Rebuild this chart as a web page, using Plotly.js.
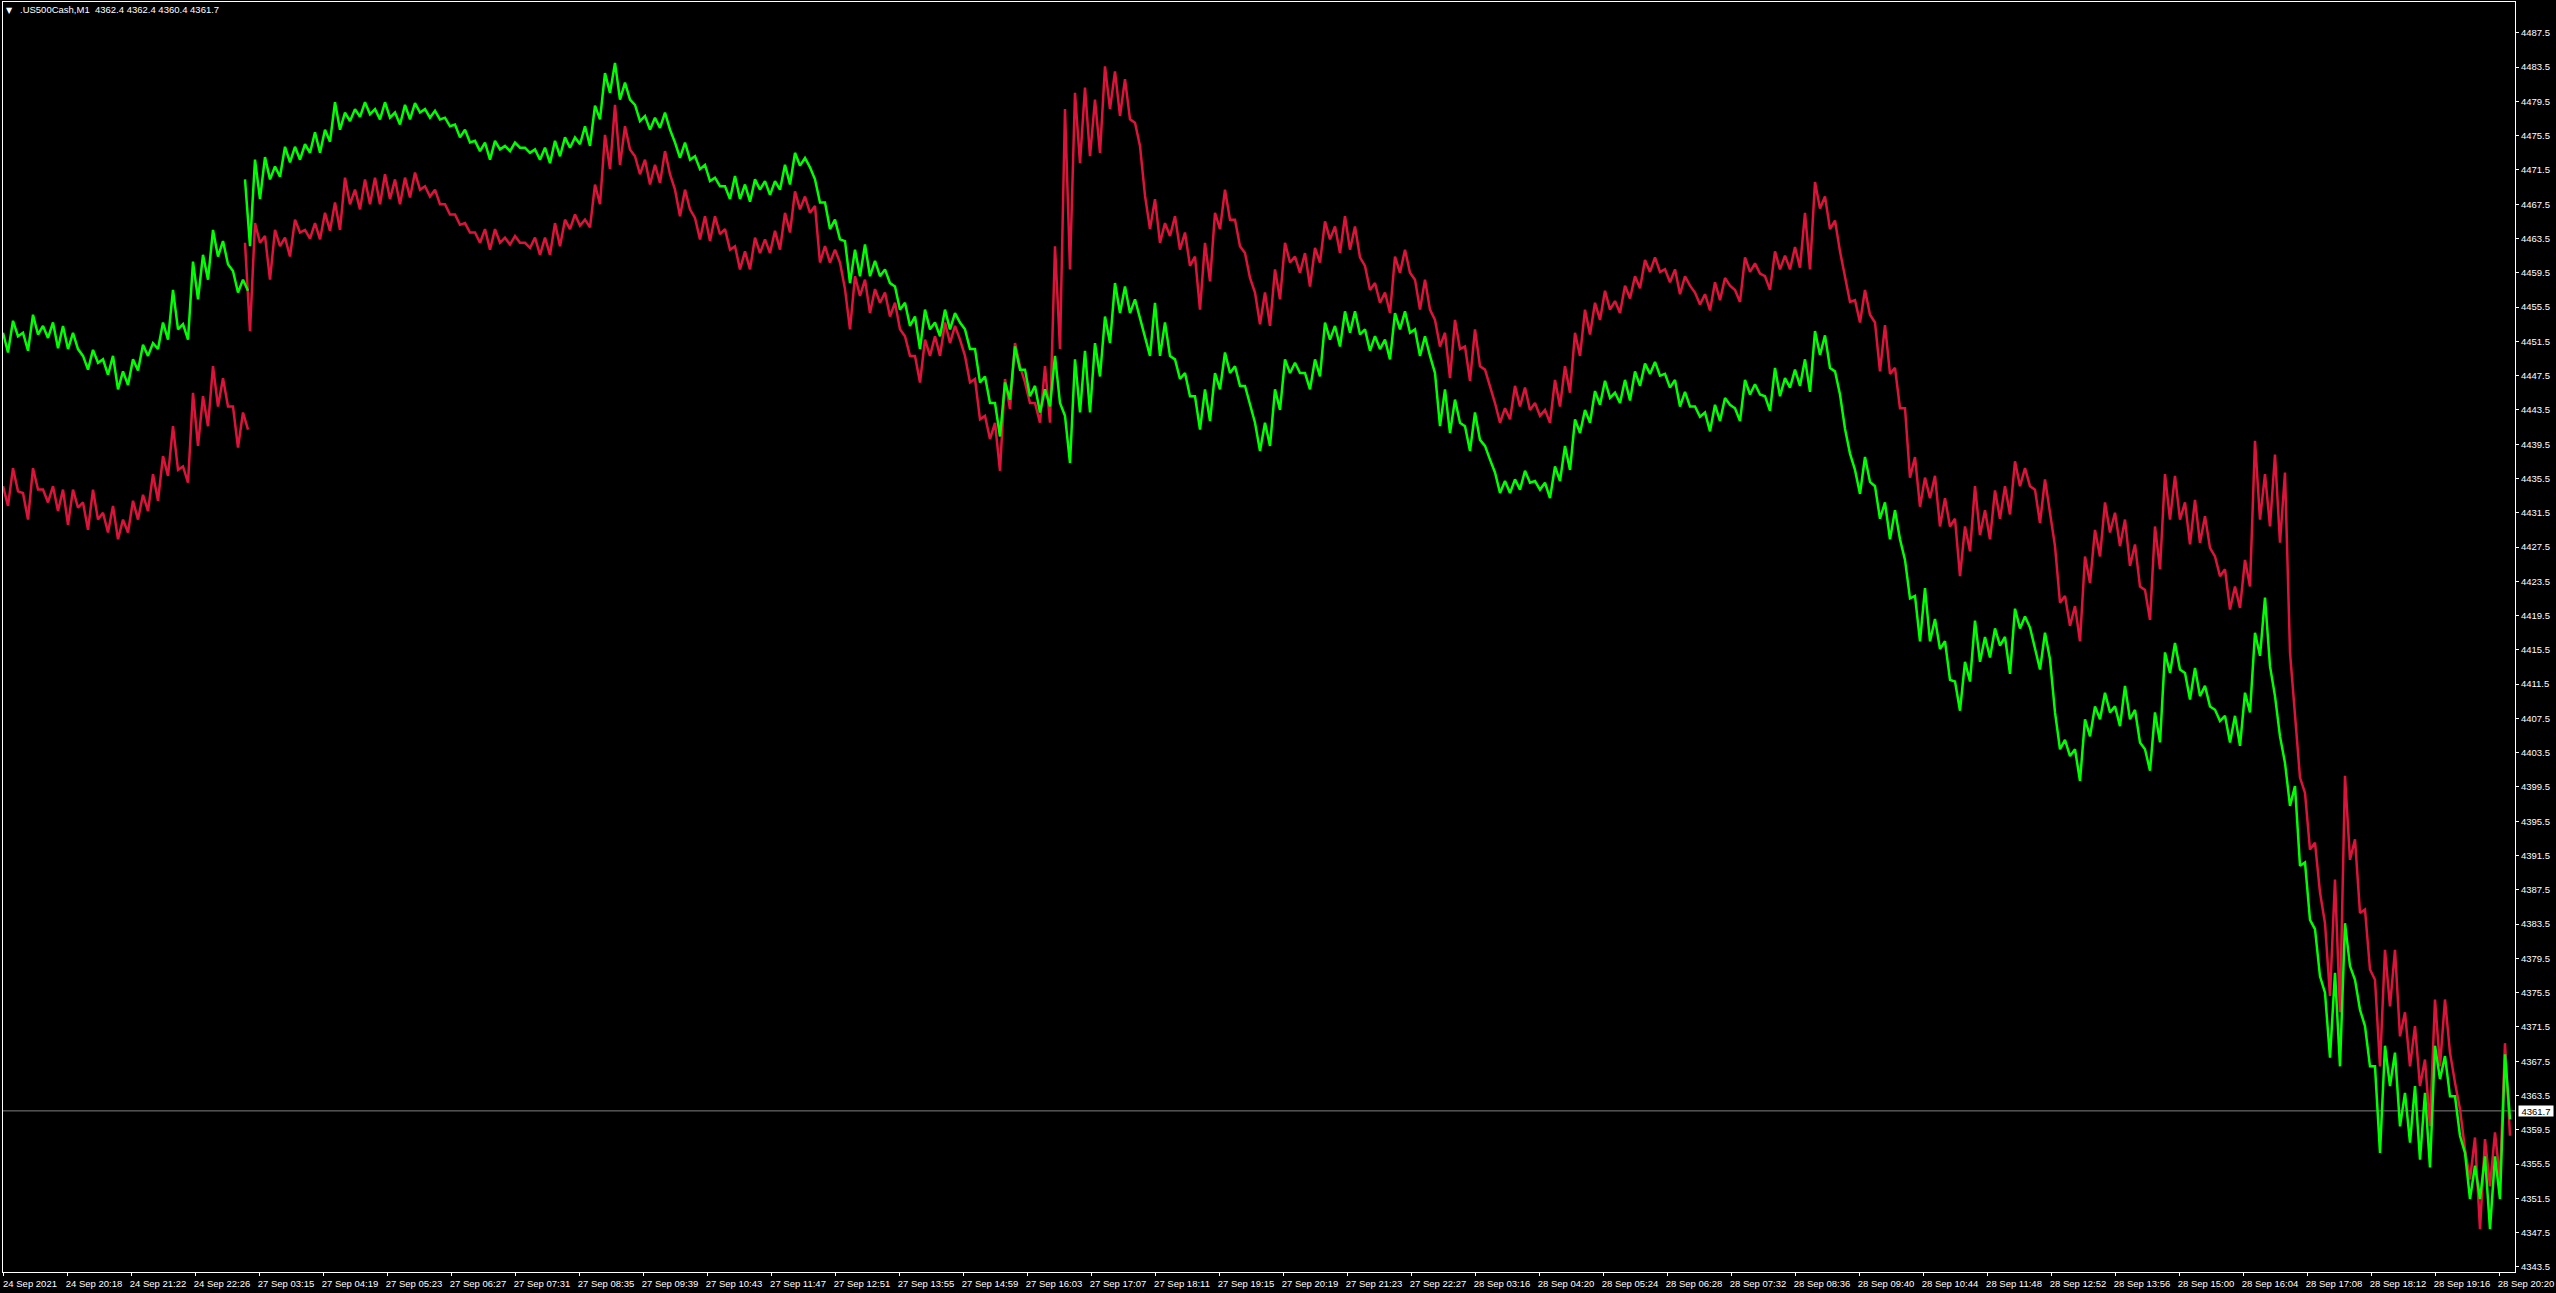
<!DOCTYPE html>
<html>
<head>
<meta charset="utf-8">
<script src="https://cdn.plot.ly/plotly-3.0.1.min.js"></script>
<style>html,body{margin:0;padding:0;background:#000;overflow:hidden}#chart{width:2556px;height:1293px}</style>
</head>
<body>
<div id="chart"></div>
<script>
// Time labels: one every 64 one-minute bars
const timeLabels = ["24 Sep 2021","24 Sep 20:18","24 Sep 21:22","24 Sep 22:26","27 Sep 03:15","27 Sep 04:19","27 Sep 05:23","27 Sep 06:27","27 Sep 07:31","27 Sep 08:35","27 Sep 09:39","27 Sep 10:43","27 Sep 11:47","27 Sep 12:51","27 Sep 13:55","27 Sep 14:59","27 Sep 16:03","27 Sep 17:07","27 Sep 18:11","27 Sep 19:15","27 Sep 20:19","27 Sep 21:23","27 Sep 22:27","28 Sep 03:16","28 Sep 04:20","28 Sep 05:24","28 Sep 06:28","28 Sep 07:32","28 Sep 08:36","28 Sep 09:40","28 Sep 10:44","28 Sep 11:48","28 Sep 12:52","28 Sep 13:56","28 Sep 15:00","28 Sep 16:04","28 Sep 17:08","28 Sep 18:12","28 Sep 19:16","28 Sep 20:20"];
const barsPerLabel = 64;
const priceTicks = [4487.5,4483.5,4479.5,4475.5,4471.5,4467.5,4463.5,4459.5,4455.5,4451.5,4447.5,4443.5,4439.5,4435.5,4431.5,4427.5,4423.5,4419.5,4415.5,4411.5,4407.5,4403.5,4399.5,4395.5,4391.5,4387.5,4383.5,4379.5,4375.5,4371.5,4367.5,4363.5,4359.5,4355.5,4351.5,4347.5,4343.5];
const currentPrice = 4361.7;
const header = ".US500Cash,M1  4362.4 4362.4 4360.4 4361.7";

// Each value is the high / low seen in a 10-bar window.
// Session A: 24 Sep, before the gap
const greenHighA = [4452.5,4453.9,4452.5,4454.6,4453.3,4453.7,4453.3,4452.5,4449.8,4450.5,4449.4,4449.8,4448.0,4449.4,4451.1,4451.3,4453.7,4457.5,4453.5,4460.8,4461.6,4464.5,4463.2,4459.7,4458.7];
const greenLowA = [4450.2,4452.1,4450.4,4452.3,4451.9,4450.7,4450.6,4450.6,4448.2,4449.0,4447.6,4445.9,4446.4,4448.1,4449.8,4450.6,4451.7,4452.9,4451.7,4456.4,4458.7,4461.4,4460.5,4457.2,4457.4];
const redHighA = [4434.6,4436.7,4433.8,4436.7,4434.2,4434.6,4434.2,4434.2,4432.7,4434.2,4431.5,4432.3,4430.7,4432.9,4433.6,4436.0,4438.1,4441.6,4436.9,4445.5,4445.1,4448.6,4447.2,4443.9,4443.2];
const redLowA = [4432.3,4434.0,4430.7,4434.2,4432.7,4431.7,4430.1,4432.1,4429.5,4430.7,4429.2,4428.4,4429.2,4430.7,4431.7,4432.9,4435.8,4436.5,4435.0,4439.3,4441.6,4443.9,4443.9,4439.1,4441.2];
const sessionAStart = 0;

// Session B: from the gap to the last bar
const greenHighB = [
4470.4,4472.7,4473.0,4471.9,4474.2,4474.2,4474.5,4475.9,4476.2,4479.4,4478.2,4478.6,4479.4,4478.6,4479.4,4478.2,
4479.1,4479.3,4478.6,4478.4,4477.6,4476.8,4476.2,4474.9,4474.7,4474.9,4474.3,4474.7,4474.1,4473.9,4474.1,4474.9,4475.3,4475.3,4476.6,4479.0,4482.8,4484.0,4481.7,4479.1,4477.8,4477.6,4478.2,4474.7,4474.7,4473.1,4472.1,4470.6,4469.6,4470.8,4469.8,4470.4,4470.2,4470.2,4472.1,4473.5,4472.9,4470.4,
4467.7,4465.7,4463.2,4462.2,4462.8,4460.9,4459.9,4457.9,4456.0,4454.4,4455.2,4453.7,4455.2,4454.8,4452.9,4450.6,4447.4,4444.3,4446.7,4450.9,4448.2,4446.3,4445.9,4449.8,4442.8,4449.4,4450.4,4451.3,4454.4,4458.3,4457.9,4456.4,4452.1,4456.0,4453.7,4449.4,4447.8,4445.1,
4445.9,4447.8,4450.2,4448.6,4446.3,4442.0,4442.0,4445.9,4449.4,4449.0,4447.8,4449.4,4453.7,4453.3,4455.0,4455.0,4452.9,4452.1,4451.7,4454.8,4455.0,4452.9,4452.1,4447.8,4445.9,4444.7,4441.6,4443.2,4439.3,4436.2,4435.2,4435.4,4436.4,4435.2,4435.0,4436.9,4439.3,4442.4,4443.5,4445.7,4446.9,4445.5,
4447.0,4448.0,4448.9,4449.1,4447.7,4447.0,4445.6,4443.9,4443.2,4444.1,4444.9,4443.7,4447.0,4446.5,4445.1,4448.4,4447.2,4448.2,4449.4,4452.7,4452.2,4448.0,4441.3,4436.5,4438.0,4434.6,4432.7,4431.8,4426.0,4421.8,4422.7,4419.1,4416.5,4411.8,4414.1,4418.9,4417.0,4418.0,4417.0,4420.3,
4419.4,4415.5,4417.5,4408.2,4405.0,4403.9,4407.4,4408.9,4410.5,4408.9,4411.3,4408.5,4403.9,4408.2,4415.2,4416.3,4412.8,4413.4,4411.3,4408.5,4407.8,4407.8,4410.5,4417.5,4421.6,4410.1,
4402.3,4399.6,4390.7,4382.9,4375.5,4377.8,4383.6,4377.0,4371.6,4366.9,4369.3,4368.5,4363.8,4364.6,4363.8,4369.3,4368.1,4363.4,4356.8,4355.3,4356.4,4356.4,4368.3];
const greenLowB = [
4462.6,4468.1,4470.4,4470.7,4472.4,4472.7,4473.5,4473.5,4474.8,4476.2,4477.2,4477.7,4478.0,4477.4,4477.6,4476.8,
4477.4,4478.2,4477.6,4477.4,4476.6,4475.3,4474.7,4473.7,4472.7,4473.9,4473.7,4474.1,4473.5,4472.7,4472.3,4473.1,4474.1,4474.5,4474.3,4477.4,4480.5,4479.7,4479.7,4477.2,4476.2,4476.4,4476.2,4472.9,4472.7,4471.6,4470.2,4469.6,4468.1,4468.1,4467.8,4469.2,4468.6,4469.2,4469.8,4472.0,4471.8,4467.7,
4464.6,4463.4,4458.3,4459.1,4459.1,4459.1,4458.3,4455.2,4453.3,4450.6,4452.9,4452.1,4452.9,4453.7,4450.6,4446.7,4444.3,4440.4,4444.7,4448.2,4445.1,4443.2,4443.9,4444.3,4437.3,4443.2,4443.2,4447.4,4451.3,4454.8,4454.8,4454.1,4449.8,4449.8,4449.8,4447.1,4445.1,4441.2,
4442.2,4445.9,4447.8,4446.3,4444.1,4438.7,4439.3,4443.5,4447.8,4447.8,4445.9,4447.4,4451.7,4450.9,4452.5,4452.3,4450.4,4450.6,4449.4,4452.9,4452.5,4449.8,4449.8,4441.6,4440.8,4442.0,4438.7,4440.0,4437.7,4433.8,4433.8,4434.2,4435.0,4434.2,4433.2,4435.2,4436.5,4440.8,4442.0,4444.1,4444.9,4444.3,
4444.6,4446.3,4447.7,4447.5,4446.1,4443.9,4443.9,4442.7,4441.0,4442.2,4444.1,4442.2,4445.3,4445.3,4443.4,4445.1,4446.1,4446.3,4445.6,4449.9,4448.4,4445.3,4438.4,4433.7,4435.1,4430.8,4428.4,4428.4,4421.5,4416.5,4416.5,4415.6,4412.0,4408.4,4411.8,4414.1,4414.6,4416.0,4412.7,4418.0,
4418.1,4413.2,4414.4,4403.9,4403.1,4400.2,4405.4,4407.4,4408.2,4406.6,4407.4,4404.7,4401.4,4404.7,4412.8,4413.2,4409.7,4410.1,4408.9,4407.2,4404.7,4404.3,4408.2,4414.8,4413.6,4405.4,
4397.3,4390.3,4384.0,4377.4,4367.9,4366.9,4378.6,4373.5,4366.9,4356.8,4364.6,4359.9,4358.0,4356.0,4355.1,4365.4,4363.4,4358.8,4351.4,4351.4,4347.9,4351.4,4360.7];
const redHighB = [
4463.0,4465.3,4463.8,4464.5,4463.6,4465.7,4464.5,4465.3,4466.5,4467.7,4470.6,4469.2,4470.4,4470.6,4471.0,4470.4,
4470.6,4471.2,4469.6,4469.2,4467.5,4466.3,4465.3,4464.2,4464.6,4464.6,4463.6,4463.8,4463.0,4463.6,4463.6,4465.3,4465.7,4466.3,4465.7,4469.8,4475.6,4479.1,4476.6,4473.1,4472.7,4472.1,4473.7,4469.2,4469.2,4465.9,4466.1,4466.1,4464.6,4462.6,4462.0,4463.6,4463.4,4464.4,4466.5,4469.0,4468.4,4467.3,
4462.6,4462.2,4457.6,4459.1,4458.7,4457.6,4457.2,4456.0,4452.1,4449.8,4451.7,4452.1,4453.7,4453.3,4449.8,4447.1,4442.8,4442.0,4447.1,4451.3,4446.7,4444.3,4448.6,4462.6,4478.6,4480.5,4481.1,4479.7,4483.6,4483.0,4482.1,4477.0,4468.5,4468.1,4465.3,4466.1,4464.2,4461.4,
4463.0,4466.5,4469.2,4465.7,4461.8,4457.2,4457.2,4459.9,4463.0,4461.4,4461.8,4462.4,4465.5,4464.9,4466.1,4464.9,4460.3,4458.3,4457.2,4461.4,4462.2,4458.7,4458.7,4454.0,4452.5,4454.0,4450.9,4452.9,4448.2,4444.3,4443.7,4446.3,4446.1,4444.3,4443.5,4447.0,4448.6,4452.5,4455.2,4456.0,4457.4,4456.2,
4458.0,4459.1,4461.0,4461.3,4459.9,4459.9,4459.1,4457.2,4457.0,4458.4,4458.9,4457.5,4461.3,4460.6,4459.1,4462.0,4461.5,4462.5,4466.5,4470.1,4468.4,4465.6,4458.9,4456.3,4457.5,4453.7,4453.4,4448.4,4443.7,4438.0,4435.6,4435.8,4433.2,4430.8,4429.9,4434.6,4431.8,4434.1,4434.6,4437.5,
4436.7,4434.2,4435.4,4427.6,4421.8,4420.6,4426.4,4429.5,4432.7,4431.5,4430.7,4427.8,4422.5,4429.9,4436.0,4435.8,4432.7,4433.0,4431.1,4426.4,4424.9,4422.9,4426.0,4439.9,4436.0,4438.3,4436.2,
4407.4,4398.8,4393.0,4383.6,4388.7,4400.8,4393.4,4385.2,4377.0,4380.5,4380.5,4373.2,4371.6,4367.7,4374.7,4374.7,4365.0,4357.2,4358.6,4358.4,4359.2,4369.6];
const redLowB = [
4452.7,4463.0,4458.7,4462.6,4461.4,4464.2,4463.5,4463.4,4464.4,4464.5,4467.5,4466.9,4467.5,4467.5,4468.1,4467.5,
4468.3,4469.2,4468.4,4467.5,4466.3,4465.1,4464.2,4463.0,4462.2,4463.0,4462.8,4463.0,4462.4,4461.6,4461.6,4462.6,4464.6,4465.0,4464.8,4467.5,4471.6,4472.1,4473.9,4471.0,4469.8,4470.0,4471.0,4466.1,4466.9,4463.4,4463.2,4464.0,4462.2,4459.9,4459.9,4461.8,4461.8,4462.2,4464.2,4466.9,4466.5,4460.7,
4460.7,4460.7,4452.9,4456.8,4454.8,4456.0,4454.4,4452.9,4449.8,4446.7,4449.8,4449.8,4451.3,4451.7,4446.7,4442.4,4440.1,4436.4,4443.6,4448.6,4444.3,4442.0,4442.0,4450.6,4459.9,4472.3,4473.1,4473.5,4478.6,4477.8,4477.4,4474.3,4464.6,4463.0,4463.8,4462.2,4460.3,4455.2,
4458.5,4464.6,4465.7,4462.6,4458.9,4453.5,4453.3,4456.4,4460.7,4459.5,4457.9,4460.7,4463.4,4461.8,4462.2,4461.3,4457.5,4456.0,4454.8,4459.5,4459.5,4455.2,4455.2,4450.9,4447.2,4450.6,4446.9,4448.6,4446.3,4442.0,4442.4,4443.9,4443.5,4442.8,4442.0,4443.9,4445.5,4449.8,4452.3,4454.0,4455.2,4454.8,
4456.5,4457.7,4459.6,4459.6,4458.4,4457.0,4458.0,4455.8,4455.1,4456.3,4458.0,4456.1,4459.6,4459.4,4457.5,4459.9,4459.9,4460.1,4459.9,4467.0,4464.6,4462.0,4456.1,4453.7,4454.6,4448.0,4447.7,4443.7,4435.6,4432.2,4433.2,4429.9,4429.9,4424.1,4427.0,4428.9,4428.4,4430.8,4431.3,4434.6,
4434.6,4430.3,4431.5,4421.0,4418.3,4416.5,4423.3,4426.4,4429.2,4427.6,4425.3,4422.9,4419.0,4424.9,4430.7,4430.7,4427.8,4428.0,4427.4,4424.1,4420.2,4420.4,4422.9,4430.7,4429.9,4428.0,4415.2,
4400.6,4392.2,4387.2,4375.1,4373.2,4391.0,4384.8,4378.2,4366.9,4373.9,4370.4,4366.9,4364.6,4359.9,4366.9,4368.5,4361.9,4353.7,4347.9,4352.9,4353.7,4358.8];
const sessionBStart = 242;
const windowBars = 10;

// High then low of every window, joined as a jagged line
function jagged(highs, lows, start, color) {
  const xs = [], ys = [];
  highs.forEach((h, k) => {
    xs.push(start + k * windowBars, start + k * windowBars + windowBars / 2);
    ys.push(h, lows[k]);
  });
  return {x: xs, y: ys, type: "scatter", mode: "lines", hoverinfo: "skip",
          line: {color: color, width: 2.5, shape: "linear"}, showlegend: false};
}
const RED = "#DC143C", GREEN = "#00FF00", WHITE = "#FFFFFF";
const FONT = "Liberation Sans, Arial, sans-serif";
const data = [
  jagged(redHighA, redLowA, sessionAStart, RED),
  jagged(redHighB, redLowB, sessionBStart, RED),
  jagged(greenHighA, greenLowA, sessionAStart, GREEN),
  jagged(greenHighB, greenLowB, sessionBStart, GREEN)
];
const W = 2556, H = 1293, L = 3, R = 41, T = 2, B = 21;
const px = v => (v - L) / (W - L - R);
const py = v => 1 - (v - T) / (H - T - B);
const layout = {
  width: W, height: H, paper_bgcolor: "#000", plot_bgcolor: "#000",
  margin: {l: L, r: R, t: T, b: B, pad: 0}, showlegend: false,
  font: {family: FONT, size: 9.5, color: WHITE},
  xaxis: {range: [0, 2512], tickmode: "array",
    tickvals: timeLabels.map((_, i) => i * barsPerLabel), ticktext: timeLabels,
    tickangle: 0, ticks: "outside", ticklen: 3, tickwidth: 1, tickcolor: WHITE,
    ticklabelshift: 27, showgrid: false, zeroline: false,
    showline: true, linecolor: WHITE, linewidth: 1, mirror: true,
    tickfont: {family: FONT, size: 9.5, color: WHITE}},
  yaxis: {range: [4342.9, 4491.1], side: "right", tickmode: "array",
    tickvals: priceTicks, ticktext: priceTicks.map(v => v.toFixed(1)),
    ticks: "outside", ticklen: 3, tickwidth: 1, tickcolor: WHITE,
    showgrid: false, zeroline: false,
    showline: true, linecolor: WHITE, linewidth: 1, mirror: true,
    tickfont: {family: FONT, size: 9.5, color: WHITE}},
  shapes: [{type: "line", layer: "below", xref: "paper", x0: 0, x1: 1, yref: "y",
            y0: currentPrice, y1: currentPrice, line: {color: "#808080", width: 1}}],
  annotations: [
    {xref: "paper", yref: "paper", x: px(18), y: py(10), xanchor: "left", yanchor: "middle",
     showarrow: false, text: header.replace(/ /g, "\u00A0"), font: {family: FONT, size: 9.5, color: WHITE}},
    {xref: "paper", yref: "paper", x: px(9.5), y: py(10.5), xanchor: "center", yanchor: "middle",
     showarrow: false, text: "\u25BC", font: {family: "DejaVu Sans", size: 8, color: WHITE}},
    {xref: "paper", yref: "y", x: px(2518), y: currentPrice, xanchor: "left", yanchor: "middle",
     showarrow: false, text: currentPrice.toFixed(1), bgcolor: WHITE, borderpad: 0, width: 34, height: 10,
     align: "center", font: {family: FONT, size: 9.5, color: "#000"}}
  ]
};
Plotly.newPlot("chart", data, layout, {displayModeBar: false, staticPlot: true});
</script>
</body>
</html>
